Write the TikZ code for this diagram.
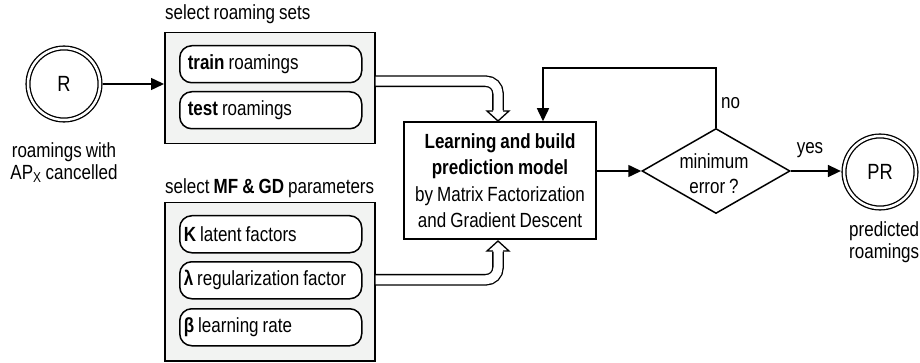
\documentclass[tikz,border=0pt]{standalone}
\usepackage{fontspec}
\setmainfont{Liberation Sans}[FakeStretch=0.83,WordSpace=0.85]
\usetikzlibrary{arrows.meta,shapes.geometric}
\definecolor{bg}{RGB}{242,243,242}
\begin{document}
\begin{tikzpicture}[x=1pt,y=-1pt,
  every node/.style={font=\fontsize{20.5}{26.5}\selectfont},
  ln/.style={line width=1.5pt},
  arr/.style={ln,-{Triangle[length=13pt,width=12pt]}},
  lbl/.style={inner sep=0pt},
  outbox/.style={draw,line width=1.5pt,fill=bg,minimum width=210pt,anchor=north west,inner sep=0pt},
  inbox/.style={draw,line width=1.5pt,fill=white,rounded corners=12pt,anchor=north west,minimum width=182pt,minimum height=37pt,text width=174pt,inner xsep=4pt,inner ysep=0pt,align=flush left},
  dcirc/.style={circle,draw,double,double distance=2.5pt,line width=1.3pt,minimum size=72pt,inner sep=0pt,font=\fontsize{22}{26}\selectfont},
  shaft/.style={draw=black,double=white,double distance=9pt,line width=1.3pt,rounded corners=12pt},
  hhead/.style={line width=1.3pt,line join=miter}
]
\useasboundingbox (0,0) rectangle (920,363);

% start circle
\node[dcirc] (R) at (64,84) {R};
\node[lbl,align=center,font=\fontsize{20.5}{22}\selectfont] (Rtxt) at (64,163) {roamings with\\AP\textsubscript{X} cancelled};

% roaming sets
\node[outbox,minimum height=111pt] (box1) at (164,32) {};
\node[lbl,anchor=west] (lab1) at (165,14) {select roaming sets};
\node[inbox] (train) at (179,45) {\hspace{4pt}\textbf{train} roamings};
\node[inbox] (test) at (179,91) {\hspace{4pt}\textbf{test} roamings};

% parameters
\node[outbox,minimum height=158pt] (box2) at (164,202) {};
\node[lbl,anchor=west] (lab2) at (165,188) {select \textbf{MF \& GD} parameters};
\node[inbox] (k) at (179,215) {\textbf{K} latent factors};
\node[inbox] (lam) at (179,261) {\mbox{\textbf{λ} regularization factor}};
\node[inbox] (beta) at (179,308) {\textbf{β} learning rate};

% main box
\node[draw,ln,minimum width=192pt,minimum height=117pt,align=center,inner sep=0pt] (main) at (500,180.5)
  {\textbf{Learning and build}\\\textbf{prediction model}\\by Matrix Factorization\\and Gradient Descent};

% decision
\node[diamond,draw,ln,minimum width=148pt,minimum height=85pt,inner sep=0pt] (dia) at (716,171) {};
\node[lbl,align=center,font=\fontsize{20.5}{25}\selectfont] (diatxt) at (714,174) {minimum\\error ?};

% end circle
\node[dcirc] (PR) at (880,172) {PR};
\node[lbl,align=flush left,anchor=west,font=\fontsize{20.5}{22}\selectfont] (PRtxt) at (849,242) {predicted\\roamings};

% connectors
\draw[arr,shorten <=2.5pt] (R.east) -- (R.east -| box1.west);
\draw[arr] (main.east |- dia.west) -- (dia.west);
\draw[arr,shorten >=2.5pt] (dia.east) -- (dia.east -| PR.west);
\coordinate (fb) at (543,68);
\draw[arr] (dia.north) |- (fb) -- (fb |- main.north);
\node[lbl,anchor=west] (no) at (721,103) {no};
\node[lbl] (yes) at (810,150) {yes};

% hollow arrows
\path (box1.east) ++(0,-7) coordinate (s1);
\coordinate (h1) at (498,111);
\draw[shaft] (s1) -| (h1);
\fill[white] (487,110.5) -- (498,121) -- (509,110.5) -- cycle;
\draw[hhead] (492.85,111) -- (487,111) -- (498,121) -- (509,111) -- (503.15,111);

\path (box2.east) ++(0,-2) coordinate (s2);
\coordinate (h2) at (498,251);
\draw[shaft] (s2) -| (h2);
\fill[white] (487,251.5) -- (498,241) -- (509,251.5) -- cycle;
\draw[hhead] (492.85,251) -- (487,251) -- (498,241) -- (509,251) -- (503.15,251);
\end{tikzpicture}
\end{document}
